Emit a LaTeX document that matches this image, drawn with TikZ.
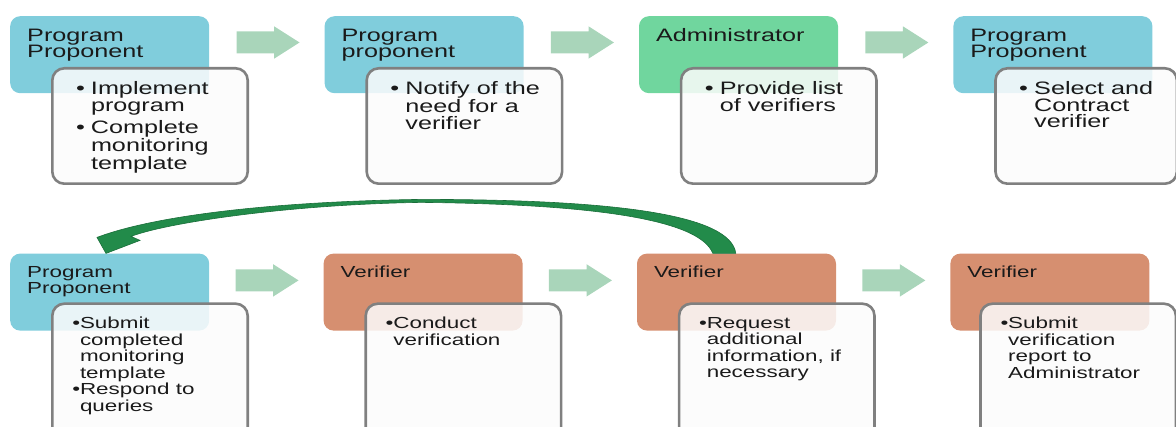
\documentclass[tikz,border=0pt]{standalone}
\usepackage{fontspec}
\setmainfont{Liberation Sans}[FakeStretch=1.4]
\usetikzlibrary{positioning}
\usetikzlibrary{calc}
\usetikzlibrary{shapes.arrows}
\definecolor{ppblue}{HTML}{80CDDC}
\definecolor{admgreen}{HTML}{70D69E}
\definecolor{verorange}{HTML}{D68F70}
\definecolor{flowgreen}{HTML}{A9D5BA}
\definecolor{loopgreen}{HTML}{228B4A}
\definecolor{loopdark}{HTML}{1A6E3A}
\definecolor{boxgray}{HTML}{808080}
\definecolor{boxfill}{HTML}{FCFCFC}
\definecolor{textdark}{HTML}{1A1A1A}
\newcommand{\topfont}{\fontsize{18pt}{16.5pt}\selectfont}
\newcommand{\lowfont}{\fontsize{16pt}{16.5pt}\selectfont}
\newcommand{\headbox}[1]{\parbox[t][52pt][t]{165pt}{\raggedright #1}}
\newcommand{\listbox}[3]{\parbox[t][#1][t]{#2}{#3}}
% bullet items: spaced (top row) and tight (bottom row)
\newcommand{\tpitem}[1]{\par\noindent\hangindent=18.7pt\hangafter=1\hspace*{3.7pt}\makebox[15pt][l]{\textbullet}#1\par}
\newcommand{\lwitem}[1]{\par\noindent\hangindent=7.7pt\hangafter=1\makebox[7.7pt][l]{\textbullet}#1\par}
\tikzset{
header/.style={fill=#1,rounded corners=10pt,anchor=north west,inner xsep=17pt,inner ysep=12.5pt,text=textdark},
content/.style={draw=boxgray,line width=2.6pt,rounded corners=12pt,fill=boxfill,fill opacity=0.85,text opacity=1,
  anchor=north west,inner xsep=20pt,inner ysep=13.5pt,text=textdark},
top row/.style={font=\topfont},
low row/.style={font=\lowfont},
flow/.style={single arrow,fill=flowgreen,draw=none,minimum height=63pt,inner xsep=0pt,inner ysep=10.8pt,
  single arrow head extend=5.2pt,single arrow tip angle=65,anchor=center},
}
\begin{document}
\begin{tikzpicture}[x=1pt,y=-1pt]
\useasboundingbox (0,0) rectangle (1176,427);
% top row
\node[header=ppblue,top row] (h1) at (10,16) {\headbox{Program\\Proponent}};
\node[header=ppblue,top row,right=115pt of h1] (h2) {\headbox{Program\\proponent}};
\node[header=admgreen,top row,right=115pt of h2] (h3) {\headbox{Administrator}};
\node[header=ppblue,top row,right=115pt of h3] (h4) {\headbox{Program\\Proponent}};
% bottom row
\node[header=ppblue,low row,below=160pt of h1] (b1) {\headbox{Program\\Proponent}};
\node[header=verorange,low row,right=114pt of b1] (b2) {\headbox{Verifier}};
\node[header=verorange,low row,right=114pt of b2] (b3) {\headbox{Verifier}};
\node[header=verorange,low row,right=114pt of b3] (b4) {\headbox{Verifier}};
% task boxes
\node[content,top row] (c1) at ([xshift=41pt,yshift=-51pt]h1.north west)
  {\listbox{88.4pt}{155.4pt}{\tpitem{Implement\\program}\vspace{4.5pt}\tpitem{Complete\\monitoring\\template}}};
\node[content,top row] (c2) at ([xshift=41pt,yshift=-51pt]h2.north west)
  {\listbox{88.4pt}{155.4pt}{\tpitem{Notify of the\\need for a\\verifier}}};
\node[content,top row] (c3) at ([xshift=41pt,yshift=-51pt]h3.north west)
  {\listbox{88.4pt}{155.4pt}{\tpitem{Provide list\\of verifiers}}};
\node[content,top row] (c4) at ([xshift=41pt,yshift=-51pt]h4.north west)
  {\listbox{88.4pt}{141.4pt}{\tpitem{Select and\\Contract\\verifier}}};
\node[content,low row] (d1) at ([xshift=41pt,yshift=-49pt]b1.north west)
  {\listbox{110pt}{155.4pt}{\lwitem{Submit\\completed\\monitoring\\template}\lwitem{Respond to\\queries}}};
\node[content,low row] (d2) at ([xshift=41pt,yshift=-49pt]b2.north west)
  {\listbox{110pt}{155.4pt}{\lwitem{Conduct\\verification}}};
\node[content,low row] (d3) at ([xshift=41pt,yshift=-49pt]b3.north west)
  {\listbox{110pt}{155.4pt}{\lwitem{Request\\additional\\information, if\\necessary}}};
\node[content,low row] (d4) at ([xshift=29pt,yshift=-49pt]b4.north west)
  {\listbox{110pt}{155.4pt}{\lwitem{Submit\\verification\\report to\\Administrator}}};
% block arrows between the steps
\foreach \a/\b in {h1/h2,h2/h3,h3/h4}
  \path ($(\a.north east)!0.5!(\b.north west)$) ++(-7.5,26.5) node[flow] (\a-\b) {};
\foreach \a/\b in {b1/b2,b2/b3,b3/b4}
  \path ($(\a.north east)!0.5!(\b.north west)$) ++(-8,27) node[flow] (\a-\b) {};
% curved arrow back to the proponent
\coordinate (loop base) at ([xshift=87.5pt]b3.north west);
\coordinate (loop tip) at ([xshift=96pt]b1.north west);
\filldraw[fill=loopgreen,draw=loopdark,line width=0.6pt]
  ($(loop base)+(11.5,0)$) .. controls ($(loop base)+(6.5,-38)$) and ($(loop base)+(-103.5,-54)$) .. ($(loop base)+(-303.5,-54)$)
  .. controls ($(loop base)+(-443.5,-52)$) and ($(loop tip)+(52,-39)$) .. ($(loop tip)+(-9,-16)$)
  -- (loop tip) -- ($(loop tip)+(34,-13)$) -- ($(loop tip)+(25,-17)$)
  .. controls ($(loop tip)+(62,-31)$) and ($(loop base)+(-433.5,-49)$) .. ($(loop base)+(-303.5,-51)$)
  .. controls ($(loop base)+(-113.5,-49)$) and ($(loop base)+(-23.5,-31)$) .. ($(loop base)+(-11.5,0)$) -- cycle;
\end{tikzpicture}
\end{document}
